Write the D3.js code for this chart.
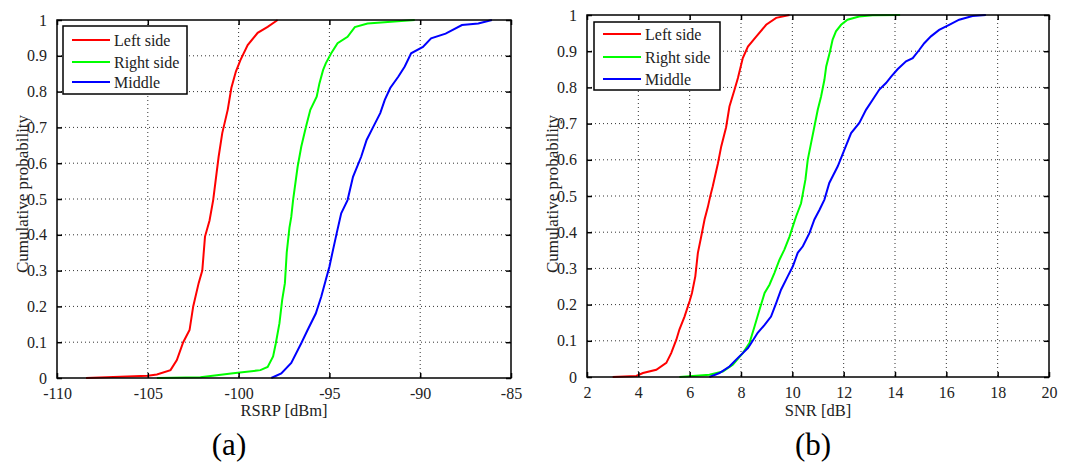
<!DOCTYPE html>
<html>
<head>
<meta charset="utf-8">
<script src="https://cdn.jsdelivr.net/npm/d3@7"></script>
<style>
  body { margin: 0; background: #fff; }
  svg { display: block; }
  svg text { font-family: "Liberation Serif", "DejaVu Serif", "Times New Roman", Times, serif; fill: #222; }
</style>
</head>
<body>
<div id="chart"></div>
<script>
// Series names and colors
const seriesNames = ["Left side", "Right side", "Middle"];
const seriesColors = ["#ff0000", "#00ff00", "#0000ff"];

const rsrpLeftX = [-108.4, -105.0, -104.5, -103.75, -103.4, -103.05, -102.7, -102.5, -102.2, -102.0, -101.85, -101.6, -101.4, -101.1, -100.9, -100.6, -100.4, -100.15, -99.9, -99.5, -98.95, -98.4, -97.85];
const rsrpLeftP = [0, 0.006, 0.01, 0.022, 0.05, 0.1, 0.134, 0.2, 0.265, 0.30, 0.395, 0.44, 0.497, 0.618, 0.684, 0.749, 0.81, 0.856, 0.888, 0.93, 0.964, 0.981, 1.0];

const rsrpRightX = [-104.5, -102.1, -100.3, -98.8, -98.4, -98.1, -97.95, -97.75, -97.6, -97.45, -97.35, -97.2, -97.1, -97.0, -96.75, -96.55, -96.3, -96.05, -95.7, -95.55, -95.35, -95.2, -94.9, -94.55, -94.0, -93.6, -92.9, -91.6, -90.3];
const rsrpRightP = [0, 0.002, 0.013, 0.022, 0.031, 0.06, 0.097, 0.153, 0.218, 0.265, 0.35, 0.42, 0.45, 0.497, 0.59, 0.646, 0.70, 0.749, 0.786, 0.823, 0.86, 0.879, 0.907, 0.935, 0.953, 0.98, 0.99, 0.995, 1.0];

const rsrpMiddleX = [-98.2, -97.65, -97.1, -96.55, -96.2, -95.75, -95.45, -95.2, -95.0, -94.8, -94.6, -94.35, -94.0, -93.7, -93.25, -92.95, -92.6, -92.2, -91.95, -91.65, -91.2, -90.85, -90.5, -89.85, -89.4, -88.6, -87.7, -86.8, -86.05];
const rsrpMiddleP = [0, 0.013, 0.042, 0.097, 0.134, 0.18, 0.227, 0.274, 0.311, 0.358, 0.404, 0.46, 0.497, 0.562, 0.618, 0.665, 0.70, 0.74, 0.777, 0.81, 0.842, 0.87, 0.907, 0.925, 0.949, 0.962, 0.986, 0.99, 1.0];

// (b) SNR [dB]
const snrLeftX = [3.0, 3.92, 4.18, 4.7, 5.09, 5.28, 5.48, 5.6, 5.8, 6.0, 6.09, 6.22, 6.32, 6.45, 6.58, 6.71, 6.8, 6.9, 7.1, 7.23, 7.42, 7.55, 7.75, 7.88, 8.07, 8.27, 8.6, 8.98, 9.37, 9.89];
const snrLeftP = [0, 0.003, 0.011, 0.02, 0.039, 0.066, 0.103, 0.131, 0.167, 0.21, 0.232, 0.278, 0.343, 0.388, 0.435, 0.47, 0.499, 0.527, 0.59, 0.637, 0.69, 0.747, 0.794, 0.826, 0.881, 0.913, 0.941, 0.973, 0.992, 1.0];

const snrRightX = [5.6, 6.77, 7.29, 7.68, 8.07, 8.33, 8.53, 8.72, 8.92, 9.11, 9.3, 9.5, 9.69, 9.89, 10.02, 10.15, 10.34, 10.51, 10.6, 10.73, 10.86, 10.99, 11.12, 11.25, 11.32, 11.47, 11.57, 11.7, 11.9, 12.15, 12.6, 13.13, 14.2];
const snrRightP = [0, 0.006, 0.015, 0.034, 0.066, 0.094, 0.14, 0.186, 0.232, 0.255, 0.287, 0.324, 0.352, 0.388, 0.416, 0.444, 0.48, 0.545, 0.6, 0.646, 0.692, 0.738, 0.775, 0.821, 0.858, 0.9, 0.932, 0.955, 0.973, 0.987, 0.996, 0.999, 1.0];

const snrMiddleX = [6.77, 7.16, 7.55, 7.81, 8.07, 8.27, 8.4, 8.65, 8.92, 9.17, 9.37, 9.56, 9.82, 10.02, 10.21, 10.41, 10.67, 10.86, 11.06, 11.25, 11.44, 11.77, 12.03, 12.29, 12.61, 12.87, 13.13, 13.39, 13.65, 13.85, 14.1, 14.43, 14.69, 14.95, 15.14, 15.4, 15.72, 16.11, 16.5, 17.02, 17.54];
const snrMiddleP = [0, 0.011, 0.029, 0.048, 0.066, 0.08, 0.094, 0.122, 0.144, 0.167, 0.204, 0.241, 0.278, 0.306, 0.343, 0.361, 0.398, 0.435, 0.462, 0.49, 0.536, 0.582, 0.628, 0.674, 0.702, 0.738, 0.766, 0.794, 0.812, 0.83, 0.85, 0.872, 0.881, 0.904, 0.922, 0.941, 0.959, 0.973, 0.987, 0.997, 1.0];

// Tick values
const rsrpTicks = [-110, -105, -100, -95, -90, -85];
const snrTicks = [2, 4, 6, 8, 10, 12, 14, 16, 18, 20];
const probTicks = [0, 0.1, 0.2, 0.3, 0.4, 0.5, 0.6, 0.7, 0.8, 0.9, 1];

const W = 1065, H = 464;
const serif = '"Liberation Serif", "DejaVu Serif", "Times New Roman", Times, serif';

const svg = d3.select("#chart")
  .append("svg")
    .attr("width", W)
    .attr("height", H)
    .attr("font-family", serif);

function zip(xs, ps) {
  return xs.map((x, i) => ({x: x, p: ps[i]}));
}

function drawPanel(cfg) {
  const g = svg.append("g")
    .attr("transform", `translate(${cfg.left},${cfg.top})`);
  const w = cfg.width, h = cfg.height;

  const x = d3.scaleLinear().domain(cfg.xDomain).range([0, w]);
  const y = d3.scaleLinear().domain([0, 1]).range([h, 0]);

  // dotted grid
  g.append("g")
    .selectAll("line")
    .data(cfg.xTicks.slice(1, -1))
    .join("line")
      .attr("x1", d => x(d)).attr("x2", d => x(d))
      .attr("y1", 0).attr("y2", h)
      .attr("stroke", "#333")
      .attr("stroke-width", 1)
      .attr("stroke-dasharray", "1,3");
  g.append("g")
    .selectAll("line")
    .data(probTicks.slice(1, -1))
    .join("line")
      .attr("x1", 0).attr("x2", w)
      .attr("y1", d => y(d)).attr("y2", d => y(d))
      .attr("stroke", "#333")
      .attr("stroke-width", 1)
      .attr("stroke-dasharray", "1,3");

  // curves
  const line = d3.line()
    .x(d => x(d.x))
    .y(d => y(d.p));

  cfg.series.forEach((s, i) => {
    g.append("path")
      .datum(s)
      .attr("fill", "none")
      .attr("stroke", seriesColors[i])
      .attr("stroke-width", 2)
      .attr("d", line);
  });

  // axes, ticks inside on all four sides
  const tl = 5;
  const plain = d => String(d);
  const bottom = g.append("g")
    .attr("transform", `translate(0,${h})`)
    .call(d3.axisBottom(x).tickValues(cfg.xTicks).tickSizeInner(-tl).tickSizeOuter(0).tickPadding(10).tickFormat(plain));
  const left = g.append("g")
    .call(d3.axisLeft(y).tickValues(probTicks).tickSizeInner(-tl).tickSizeOuter(0).tickPadding(10).tickFormat(plain));
  g.append("g")
    .call(d3.axisTop(x).tickValues(cfg.xTicks).tickSizeInner(-tl).tickSizeOuter(0).tickFormat(""));
  g.append("g")
    .attr("transform", `translate(${w},0)`)
    .call(d3.axisRight(y).tickValues(probTicks).tickSizeInner(-tl).tickSizeOuter(0).tickFormat(""));
  g.selectAll(".domain").remove();
  g.selectAll(".tick line").attr("stroke", "#000").attr("stroke-width", 1.5);
  [bottom, left].forEach(a => {
    a.attr("font-family", serif).attr("font-size", 16);
    a.selectAll("text").attr("fill", "#222");
  });

  // frame
  g.append("rect")
    .attr("width", w).attr("height", h)
    .attr("fill", "none")
    .attr("stroke", "#000")
    .attr("stroke-width", 1.5);

  // axis labels
  g.append("text")
    .attr("x", w / 2)
    .attr("y", 416 - cfg.top)
    .attr("text-anchor", "middle")
    .attr("font-size", 16.5)
    .text(cfg.xLabel);
  g.append("text")
    .attr("transform", `translate(${cfg.yLabelX - cfg.left},${194 - cfg.top}) rotate(-90)`)
    .attr("text-anchor", "middle")
    .attr("font-size", 17)
    .text("Cumulative probability");

  // panel caption
  svg.append("text")
    .attr("x", cfg.captionX)
    .attr("y", 455)
    .attr("text-anchor", "middle")
    .attr("font-size", 31)
    .style("fill", "#000")
    .text(cfg.caption);

  // legend
  const lg = g.append("g")
    .attr("transform", `translate(${cfg.legend.x - cfg.left},${cfg.legend.y - cfg.top})`);
  lg.append("rect")
    .attr("width", cfg.legend.w).attr("height", cfg.legend.h)
    .attr("fill", "#fff")
    .attr("stroke", "#000")
    .attr("stroke-width", 1.5);
  seriesNames.forEach((name, i) => {
    const ry = cfg.legend.rows[i];
    lg.append("line")
      .attr("x1", 9).attr("x2", 47)
      .attr("y1", ry).attr("y2", ry)
      .attr("stroke", seriesColors[i])
      .attr("stroke-width", 2);
    lg.append("text")
      .attr("x", 51)
      .attr("y", ry)
      .attr("dy", "0.35em")
      .attr("font-size", 16)
      .text(name);
  });
}

drawPanel({
  left: 57, top: 20, width: 454, height: 358,
  xDomain: [-110, -85],
  xTicks: rsrpTicks,
  xLabel: "RSRP [dBm]",
  yLabelX: 28,
  caption: "(a)", captionX: 229,
  series: [zip(rsrpLeftX, rsrpLeftP), zip(rsrpRightX, rsrpRightP), zip(rsrpMiddleX, rsrpMiddleP)],
  legend: {x: 63, y: 26, w: 124, h: 68, rows: [14, 36, 56]}
});

drawPanel({
  left: 587, top: 15, width: 462, height: 362,
  xDomain: [2, 20],
  xTicks: snrTicks,
  xLabel: "SNR [dB]",
  yLabelX: 558,
  caption: "(b)", captionX: 813,
  series: [zip(snrLeftX, snrLeftP), zip(snrRightX, snrRightP), zip(snrMiddleX, snrMiddleP)],
  legend: {x: 594, y: 22, w: 126, h: 68, rows: [12, 35, 57]}
});
</script>
</body>
</html>
